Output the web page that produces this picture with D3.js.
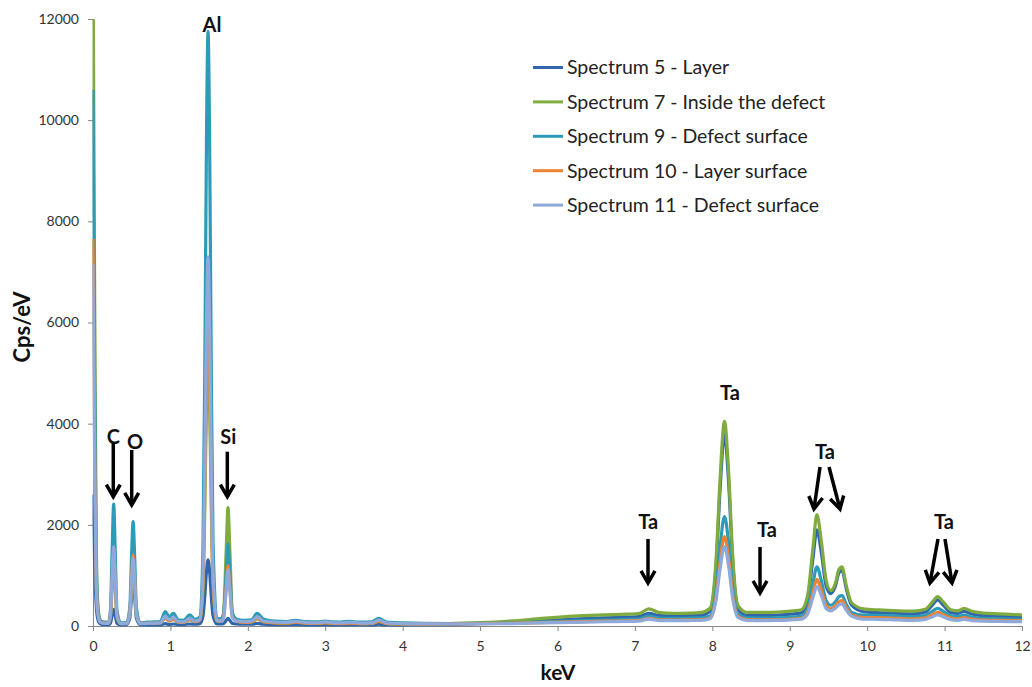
<!DOCTYPE html>
<html><head><meta charset="utf-8">
<script src="https://cdn.jsdelivr.net/npm/d3@7"></script>
<style>body{margin:0;background:#fff} svg{display:block;font-family:Lato,'Open Sans',sans-serif}</style>
</head><body><svg id="chart" width="1032" height="687"></svg>
<script>
// Energy grid (keV)
const energy = [
  0, 0.02, 0.04, 0.06, 0.09, 0.13, 0.17,
  0.2, 0.225, 0.247, 0.267, 0.287, 0.31, 0.36,
  0.43, 0.475, 0.498, 0.518, 0.538, 0.56, 0.61,
  0.7, 0.8, 0.87,
  0.934, 0.985, 1.04, 1.1, 1.17, 1.25, 1.32,
  1.38, 1.42, 1.445, 1.466, 1.486, 1.506, 1.527, 1.55, 1.6,
  1.65, 1.685, 1.72, 1.744, 1.768, 1.80, 1.85,
  1.95, 2.05, 2.12, 2.2, 2.35, 2.5, 2.62, 2.75, 2.9, 3.0, 3.1, 3.2, 3.31, 3.45, 3.6, 3.69, 3.8, 4.0, 4.3, 4.6,
  5.0, 5.4, 5.8, 6.2, 6.6, 6.9, 7.05,
  7.18, 7.32, 7.5, 7.7, 7.85,
  7.97, 8.05, 8.10, 8.157, 8.21, 8.26, 8.33, 8.45,
  8.65, 8.85, 9.05,
  9.15, 9.23, 9.3, 9.35, 9.41, 9.47, 9.53, 9.59, 9.635, 9.675, 9.73, 9.8, 9.95,
  10.15, 10.4, 10.6, 10.75, 10.84, 10.91, 10.98, 11.08, 11.17, 11.25, 11.35, 11.5, 11.7, 11.85, 12.0
];
// Spectrum 5 - Layer
const spectrum5 = [
  2600, 1300, 450, 150, 45, 28, 25,
  25, 55, 210, 330, 210, 50, 22,
  25, 150, 580, 870, 580, 155, 25,
  20, 20, 22,
  45, 30, 40, 28, 28, 40, 35,
  45, 190, 600, 1080, 1307, 1080, 600, 210, 40,
  40, 45, 110, 150, 110, 50, 40,
  35, 35, 50, 35, 28, 25, 30, 24, 22, 28, 22, 22, 25, 22, 22, 35, 22, 22, 25, 28,
  50, 70, 100, 135, 160, 175, 185,
  250, 205, 200, 205, 210,
  290, 1230, 2700, 3782, 2850, 1350, 340, 210,
  210, 215, 240,
  260, 520, 1340, 1900, 1430, 790, 640, 790, 1050, 1100, 740, 410, 285,
  264, 250, 240, 275, 410, 515, 420, 265, 250, 290, 240, 205, 190, 180, 172
];
// Spectrum 7 - Inside the defect
const spectrum7 = [
  13500, 7000, 2000, 500, 120, 60, 55,
  60, 180, 775, 1250, 775, 170, 50,
  55, 220, 770, 1150, 770, 230, 55,
  55, 60, 65,
  150, 100, 130, 80, 75, 120, 85,
  120, 720, 2390, 4360, 5300, 4360, 2390, 800, 100,
  110, 230, 1480, 2343, 1480, 280, 110,
  75, 80, 140, 85, 65, 60, 75, 58, 52, 65, 52, 50, 60, 48, 52, 90, 48, 42, 40, 45,
  65, 100, 150, 195, 220, 235, 245,
  340, 265, 250, 255, 265,
  350, 1360, 2910, 4045, 3060, 1470, 410, 270,
  270, 275, 300,
  320, 600, 1550, 2200, 1650, 900, 700, 850, 1120, 1170, 800, 460, 340,
  317, 300, 295, 330, 470, 580, 480, 320, 300, 350, 290, 255, 240, 230, 218
];
// Spectrum 9 - Defect surface
const spectrum9 = [
  10600, 5000, 1500, 400, 120, 80, 75,
  70, 320, 1480, 2410, 1480, 300, 60,
  60, 360, 1380, 2065, 1380, 380, 60,
  75, 80, 90,
  283, 180, 251, 120, 110, 218, 130,
  180, 1520, 5250, 9650, 11750, 9650, 5250, 1700, 150,
  140, 230, 1030, 1624, 1030, 250, 140,
  110, 120, 251, 140, 95, 88, 112, 85, 80, 99, 80, 78, 92, 75, 80, 152, 75, 60, 50, 48,
  52, 62, 80, 100, 118, 130, 138,
  195, 155, 150, 155, 160,
  200, 740, 1560, 2165, 1640, 800, 235, 160,
  155, 160, 180,
  195, 340, 840, 1170, 880, 500, 410, 480, 580, 600, 430, 270, 215,
  211, 195, 185, 210, 290, 350, 295, 200, 185, 215, 175, 150, 140, 135, 132
];
// Spectrum 10 - Layer surface
const spectrum10 = [
  7650, 3600, 1000, 300, 90, 60, 55,
  55, 200, 915, 1480, 915, 190, 45,
  50, 250, 940, 1406, 940, 260, 50,
  50, 55, 60,
  160, 100, 140, 75, 70, 130, 85,
  120, 830, 2780, 5100, 6200, 5100, 2780, 920, 100,
  100, 160, 760, 1188, 760, 180, 100,
  70, 80, 150, 85, 60, 55, 75, 55, 50, 65, 50, 48, 58, 45, 50, 90, 45, 40, 38, 40,
  47, 55, 68, 82, 95, 104, 110,
  150, 122, 119, 120, 125,
  160, 600, 1270, 1768, 1340, 650, 190, 125,
  120, 122, 140,
  150, 270, 670, 920, 700, 400, 340, 400, 480, 500, 360, 220, 168,
  165, 150, 140, 160, 225, 271, 230, 155, 140, 165, 135, 115, 110, 108, 106
];
// Spectrum 11 - Defect surface
const spectrum11 = [
  7150, 3400, 950, 280, 80, 55, 50,
  55, 210, 970, 1570, 970, 200, 45,
  45, 240, 890, 1340, 890, 250, 45,
  50, 55, 60,
  190, 120, 170, 85, 80, 150, 95,
  130, 970, 3270, 6000, 7300, 6000, 3270, 1080, 110,
  100, 150, 710, 1109, 710, 170, 100,
  85, 95, 180, 100, 75, 70, 90, 68, 62, 80, 62, 60, 72, 58, 62, 115, 58, 48, 42, 40,
  42, 48, 60, 72, 84, 92, 98,
  135, 108, 106, 108, 112,
  145, 535, 1130, 1570, 1190, 580, 170, 112,
  108, 110, 125,
  135, 235, 570, 780, 595, 345, 300, 350, 420, 436, 315, 195, 135,
  132, 120, 112, 130, 180, 218, 185, 125, 112, 130, 108, 95, 90, 88, 86
];

const seriesNames = ["Spectrum 5 - Layer", "Spectrum 7 - Inside the defect", "Spectrum 9 - Defect surface", "Spectrum 10 - Layer surface", "Spectrum 11 - Defect surface"];
const seriesValues = [spectrum5, spectrum7, spectrum9, spectrum10, spectrum11];
const seriesColors = ["#2F66AE", "#80AC3F", "#2C9BB7", "#EC8232", "#8FA9DA"];

const xTicks = [0,1,2,3,4,5,6,7,8,9,10,11,12];
const yTicks = [0,2000,4000,6000,8000,10000,12000];

// Element labels (position in keV / cps)
const labelText = ["Al", "C", "O", "Si", "Ta", "Ta", "Ta", "Ta", "Ta"];
const labelKeV  = [1.537, 0.262, 0.5425, 1.748, 8.228, 7.173, 8.706, 9.455, 10.992];
const labelCps  = [11880, 3742, 3644, 3742, 4606, 2062, 1898, 3440, 2056];
// Arrows: start (keV, cps) -> tip (keV, cps)
const arrowKeV0 = [0.262, 0.50, 1.735, 7.169, 8.616, 9.391, 9.507, 10.915, 11.005];
const arrowCps0 = [3618, 3480, 3446, 1720, 1562, 3143, 3143, 1720, 1720];
const arrowKeV1 = [0.262, 0.50, 1.735, 7.169, 8.616, 9.313, 9.649, 10.811, 11.096];
const arrowCps1 = [2556, 2392, 2556, 850, 652, 2313, 2313, 850, 850];

const svg = d3.select("#chart");
const x = d3.scaleLinear().domain([0, 12]).range([93, 1022]);
const y = d3.scaleLinear().domain([0, 12000]).range([626, 19]);
const axisColor = "#868686";
const textColor = "#333";

// Axes
const gx = svg.append("g").attr("transform", `translate(0,${y(0)})`)
  .call(d3.axisBottom(x).tickValues(xTicks).tickSize(5).tickSizeOuter(0).tickPadding(10).tickFormat(d3.format("d")));
const gy = svg.append("g").attr("transform", `translate(${x(0)},0)`)
  .call(d3.axisLeft(y).tickValues(yTicks).tickSize(5).tickSizeOuter(0).tickPadding(9).tickFormat(d => String(d)));
[gx, gy].forEach(g => {
  g.select(".domain").attr("stroke", axisColor).attr("stroke-width", 1);
  g.selectAll(".tick line").attr("stroke", axisColor);
  g.selectAll(".tick text").attr("fill", textColor).style("font-size", "14px").style("font-family", "Lato, 'Open Sans', sans-serif");
});

// Clip
svg.append("clipPath").attr("id", "plotclip").append("rect")
  .attr("x", x(0) - 0.5).attr("y", y(12000)).attr("width", x(12) - x(0) + 6).attr("height", y(0) - y(12000) + 6);

const line = d3.line().x((d, i) => x(energy[i])).y(d => y(d)).curve(d3.curveMonotoneX);
const gl = svg.append("g").attr("clip-path", "url(#plotclip)");
seriesValues.forEach((vals, k) => {
  gl.append("path").datum(vals)
    .attr("d", line).attr("fill", "none")
    .attr("stroke", seriesColors[k]).attr("stroke-width", 3.2)
    .attr("stroke-linejoin", "round").attr("stroke-linecap", "butt");
});

// Axis titles
svg.append("text").attr("x", 558).attr("y", 673).attr("dy", "0.35em").attr("text-anchor", "middle")
  .style("font-size", "21px").style("font-weight", "bold").attr("fill", "#111").text("keV");
svg.append("text").attr("transform", "translate(22,327) rotate(-90)").attr("dy", "0.35em").attr("text-anchor", "middle")
  .style("font-size", "22px").style("font-weight", "bold").attr("fill", "#111").text("Cps/eV");

// Legend
const lg = svg.append("g");
seriesNames.forEach((name, i) => {
  const yy = 67.5 + i * 34.4;
  lg.append("line").attr("x1", 533).attr("x2", 563).attr("y1", yy).attr("y2", yy)
    .attr("stroke", seriesColors[i]).attr("stroke-width", 3);
  lg.append("text").attr("x", 567).attr("y", yy).attr("dy", "0.35em")
    .style("font-size", "19.5px").attr("fill", "#222").text(name);
});

// Annotations
const ga = svg.append("g");
labelText.forEach((t, i) => {
  ga.append("text").attr("x", x(labelKeV[i])).attr("y", y(labelCps[i])).attr("dy", "0.35em")
    .attr("text-anchor", "middle").style("font-size", "20px").style("font-weight", "bold")
    .attr("fill", "#111").text(t);
});
arrowKeV0.forEach((_, i) => {
  const x1 = x(arrowKeV0[i]), y1 = y(arrowCps0[i]), x2 = x(arrowKeV1[i]), y2 = y(arrowCps1[i]);
  const ang = Math.atan2(y2 - y1, x2 - x1);
  const L = 14, sp = 0.52;
  const p1 = [x2 - L * Math.cos(ang - sp), y2 - L * Math.sin(ang - sp)];
  const p2 = [x2 - L * Math.cos(ang + sp), y2 - L * Math.sin(ang + sp)];
  ga.append("line").attr("x1", x1).attr("y1", y1).attr("x2", x2 - 1.5 * Math.cos(ang)).attr("y2", y2 - 1.5 * Math.sin(ang))
    .attr("stroke", "#000").attr("stroke-width", 3.5);
  ga.append("polyline").attr("points", [p1, [x2, y2], p2].map(p => p.join(",")).join(" "))
    .attr("fill", "none").attr("stroke", "#000").attr("stroke-width", 3.5)
    .attr("stroke-linejoin", "miter").attr("stroke-linecap", "butt");
});
</script>
</body></html>
